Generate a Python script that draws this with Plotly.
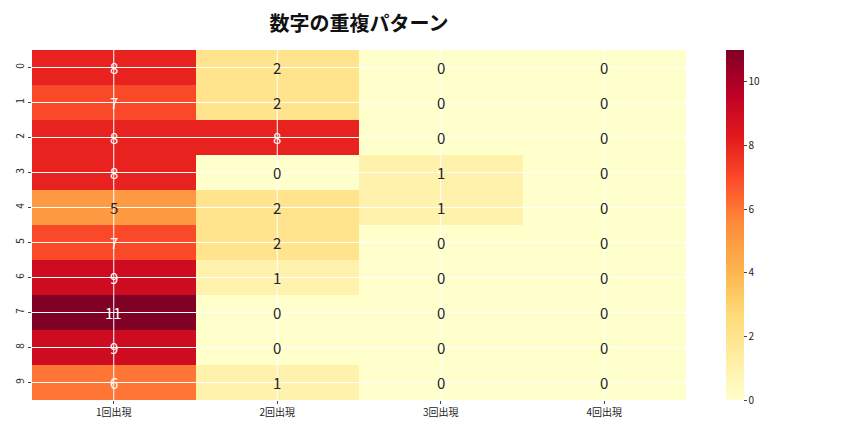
import plotly.graph_objects as go
import plotly.colors as pc

# Data
digits = [0, 1, 2, 3, 4, 5, 6, 7, 8, 9]
patterns = ['1回出現', '2回出現', '3回出現', '4回出現']
once = [8, 7, 8, 8, 5, 7, 9, 11, 9, 6]
twice = [2, 2, 8, 0, 2, 2, 1, 0, 0, 1]
thrice = [0, 0, 0, 1, 1, 0, 0, 0, 0, 0]
four_times = [0, 0, 0, 0, 0, 0, 0, 0, 0, 0]

cols = [once, twice, thrice, four_times]
z = [[c[r] for c in cols] for r in range(len(digits))]
xs = list(range(len(patterns)))

FONT = "Noto Sans CJK JP"

fig = go.Figure(go.Heatmap(
    z=z, x=xs, y=digits,
    zmin=0, zmax=11,
    colorscale=pc.sequential.YlOrRd,
    colorbar=dict(
        x=1.061, xanchor='left', y=0.5, len=1.0, thickness=18,
        xpad=0, ypad=0,
        outlinewidth=0, ticks='outside', ticklen=3,
        tickvals=[0, 2, 4, 6, 8, 10],
        tickfont=dict(size=10, family=FONT, color='#222'),
    ),
    hoverinfo='z',
))

# cell labels
for r, d in enumerate(digits):
    for c in xs:
        v = z[r][c]
        fig.add_annotation(
            x=c, y=d, text=str(v), showarrow=False,
            font=dict(size=15, family=FONT, color='white' if v > 5.5 else '#262626'),
        )

# white grid lines drawn over the cells
for c in xs:
    fig.add_shape(type='line', x0=c, x1=c, y0=0, y1=1, xref='x', yref='y domain',
                  line=dict(color='white', width=1), layer='above')
for d in digits:
    fig.add_shape(type='line', x0=0, x1=1, y0=d, y1=d, xref='x domain', yref='y',
                  line=dict(color='white', width=1), layer='above')

# page has an 8px body margin, so margins are offset by that
fig.update_layout(
    width=864, height=432,
    margin=dict(l=24, r=186, t=42, b=40),
    paper_bgcolor='white', plot_bgcolor='white',
    font=dict(family=FONT),
    title=dict(text='<b>数字の重複パターン</b>', x=(24 + 654 / 2) / 864, xanchor='center',
               y=1 - 16 / 432, yanchor='middle',
               font=dict(size=20, family=FONT, color='#111')),
    xaxis=dict(tickvals=xs, ticktext=patterns, ticks='outside', ticklen=3,
               tickfont=dict(size=10, family=FONT, color='#222'), showgrid=False,
               zeroline=False, range=[-0.5, 3.5], automargin=False),
    yaxis=dict(tickvals=digits, ticktext=[str(d) for d in digits], ticks='outside',
               ticklen=3, tickangle=-90, autorange='reversed',
               tickfont=dict(size=10, family=FONT, color='#222'), showgrid=False,
               zeroline=False, automargin=False),
)

fig.write_html("out.html")
